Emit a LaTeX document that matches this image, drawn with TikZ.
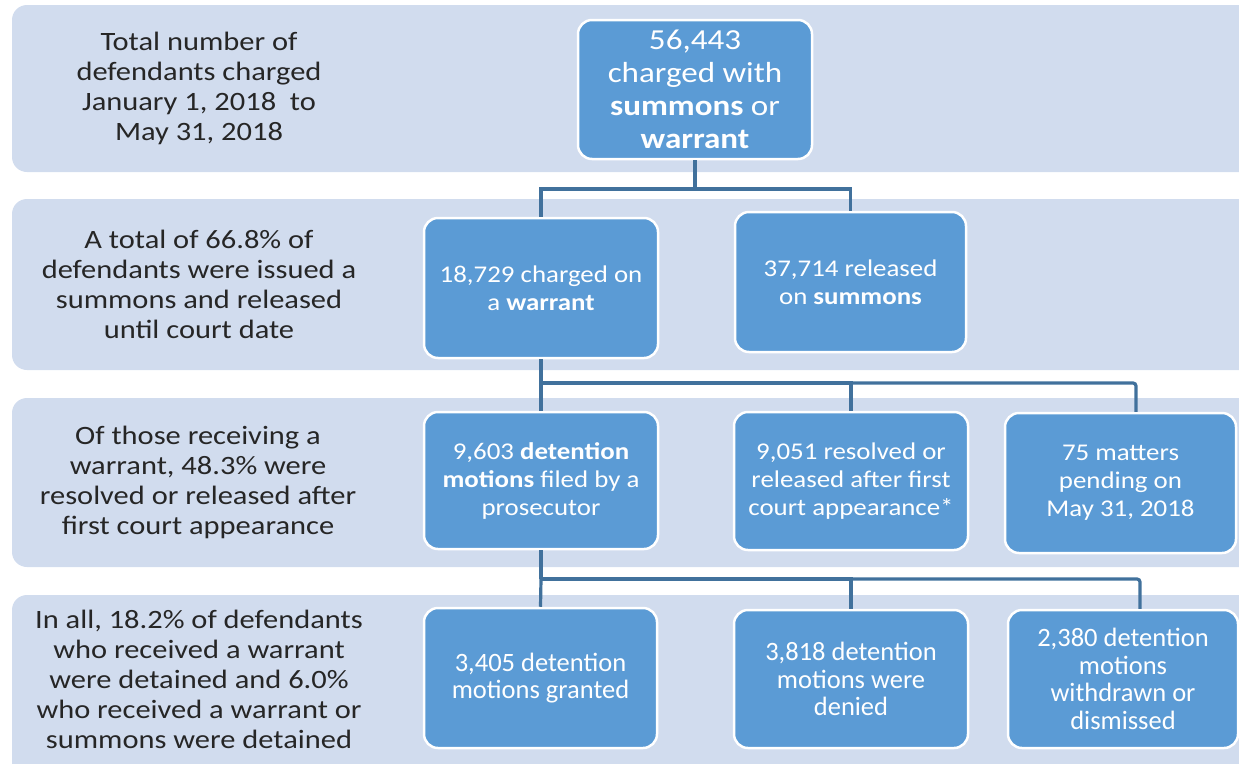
\documentclass[tikz,border=0pt]{standalone}
\usepackage{fontspec}
\setmainfont{Carlito}
\newfontfamily\labfont[FakeStretch=1.15]{Carlito}
\newfontfamily\boxfont[FakeStretch=1.12]{Carlito}
\newfontfamily\bigfont[FakeStretch=1.14]{Carlito}
\newfontfamily\lowfontf{Carlito}
\definecolor{bandc}{RGB}{209,220,238}
\definecolor{boxc}{RGB}{91,155,213}
\definecolor{linec}{RGB}{65,113,156}
\definecolor{labc}{RGB}{38,38,38}
\tikzset{
  band/.style={fill=bandc, draw=none, rounded corners=15pt},
  flowbox/.style={draw=white, line width=2.5pt, fill=boxc, rounded corners=14pt,
    text=white, align=center, inner sep=2pt},
  topfont/.style={font=\bigfont\fontsize{29}{33}\selectfont},
  midfont/.style={font=\boxfont\fontsize{24}{28}\selectfont},
  lowfont/.style={font=\lowfontf\fontsize{26.5}{27.5}\selectfont},
  label/.style={text=labc, align=center, font=\labfont\fontsize{26.5}{30}\selectfont},
  conn/.style={draw=linec, line width=3.2pt}
}
\begin{document}
\begin{tikzpicture}[x=1pt,y=-1pt]
\useasboundingbox (0,0) rectangle (1239,763);
\begin{scope}
\clip (0,0) rectangle (1239,763);
\fill[band] (12,5) rectangle (1270,172);
\fill[band] (12,199) rectangle (1270,370);
\fill[band] (12,398) rectangle (1270,567);
\fill[band] (12,595) rectangle (1270,790);
\end{scope}

% left labels
\node[label] (l1) at (199,88) {Total number of\\defendants charged\\January 1, 2018\ \ to\\May 31, 2018};
\node[label] (l2) at (199,284.5) {A total of 66.8\% of\\defendants were issued a\\summons and released\\until court date};
\node[label] (l3) at (198,482.5) {Of those receiving a\\warrant, 48.3\% were\\resolved or released after\\first court appearance};
\node[label] (l4) at (199,679) {In all, 18.2\% of defendants\\who received a warrant\\were detained and 6.0\%\\who received a warrant or\\summons were detained};

% boxes
\node[flowbox, topfont, minimum width=234pt, minimum height=139pt] (top) at (695,89.5)
  {56,443\\charged with\\\textbf{summons} or\\\textbf{warrant}};
\node[flowbox, midfont, minimum width=234pt, minimum height=140pt] (r2a) at (541,288)
  {18,729 charged on\\a \textbf{warrant}};
\node[flowbox, midfont, minimum width=231pt, minimum height=140pt] (r2b) at (850.5,282)
  {37,714 released\\on \textbf{summons}};
\node[flowbox, midfont, minimum width=234pt, minimum height=137pt] (r3a) at (541,480.5)
  {9,603 \textbf{detention}\\\textbf{motions} filed by a\\prosecutor};
\node[flowbox, midfont, minimum width=234pt, minimum height=138pt] (r3b) at (851,481)
  {9,051 resolved or\\released after first\\court appearance*};
\node[flowbox, midfont, minimum width=231pt, minimum height=140pt] (r3c) at (1120.5,483)
  {75 matters\\pending on\\May 31, 2018};
\node[flowbox, lowfont, minimum width=233pt, minimum height=140pt] (r4a) at (540.5,678)
  {3,405 detention\\motions granted};
\node[flowbox, lowfont, minimum width=234pt, minimum height=138pt] (r4b) at (851,679)
  {3,818 detention\\motions were\\denied};
\node[flowbox, lowfont, minimum width=230pt, minimum height=138pt] (r4c) at (1123,679)
  {2,380 detention\\motions\\withdrawn or\\dismissed};

% connectors
\coordinate (j1) at (695,189);
\draw[conn] (top.south) -- (j1);
\draw[conn] (j1) -| (r2a.north);
\draw[conn] (j1) -| (r2b.north);

\coordinate (j2) at (541,383);
\draw[conn] (r2a.south) -- (j2);
\draw[conn] (j2) -- (r3a.north);
\draw[conn] (j2) -| (r3b.north);
\draw[conn, rounded corners=3pt] (j2) -| ([xshift=15.5pt]r3c.north);

\coordinate (j3) at (541,579);
\draw[conn] (r3a.south) -- (j3);
\draw[conn] (j3) -- (r4a.north);
\draw[conn] (j3) -| (r4b.north);
\draw[conn, rounded corners=3pt] (j3) -| ([xshift=17pt]r4c.north);
\end{tikzpicture}
\end{document}
